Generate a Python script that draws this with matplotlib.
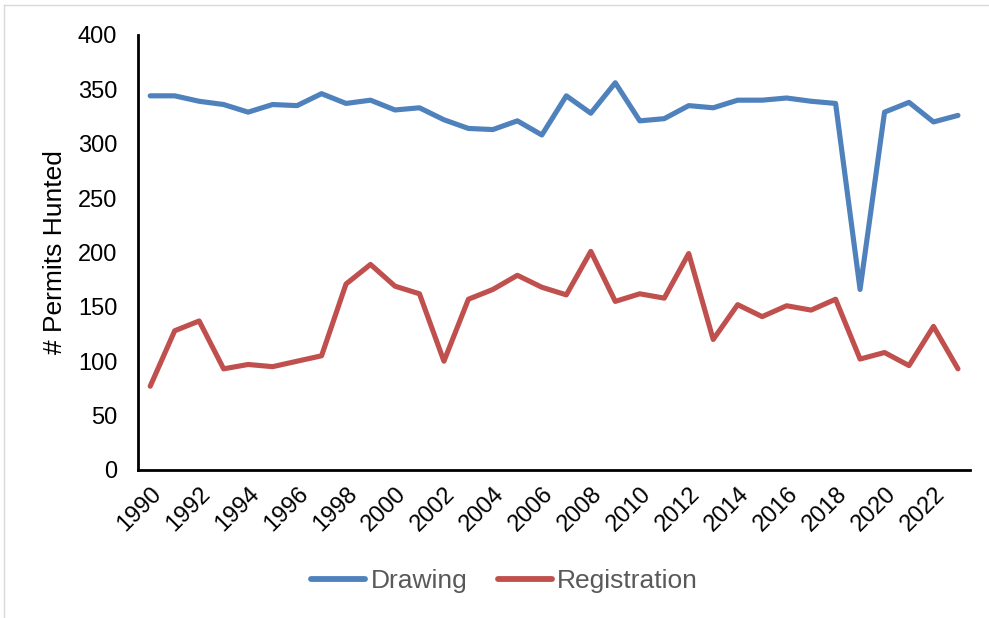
import matplotlib
matplotlib.use("Agg")
import matplotlib.pyplot as plt
from matplotlib.lines import Line2D

years = list(range(1990, 2024))
drawing = [344, 344, 339, 336, 329, 336, 335, 346, 337, 340, 331, 333, 322, 314, 313, 321, 308,
           344, 328, 356, 321, 323, 335, 333, 340, 340, 342, 339, 337, 166, 329, 338, 320, 326]
registration = [77, 128, 137, 93, 97, 95, 100, 105, 171, 189, 169, 162, 100, 157, 166, 179, 168,
                161, 201, 155, 162, 158, 199, 120, 152, 141, 151, 147, 157, 102, 108, 96, 132, 93]
tick_years = list(range(1990, 2024, 2))

plt.rcParams['font.family'] = ['Liberation Sans', 'DejaVu Sans']

fig = plt.figure(figsize=(9.89, 6.18), dpi=100)
ax = fig.add_axes([0.1395, 0.2395, 0.8415, 0.704])

x = list(range(len(years)))
ax.plot(x, drawing, color='#4F81BD', lw=3.7, solid_capstyle='round', solid_joinstyle='round', label='Drawing')
ax.plot(x, registration, color='#C0504D', lw=3.7, solid_capstyle='round', solid_joinstyle='round', label='Registration')

ax.set_xlim(-0.5, len(years) - 0.5)
ax.set_ylim(0, 400)
ax.set_yticks(range(0, 401, 50))
ax.set_xticks([years.index(y) for y in tick_years])
ax.set_xticklabels([str(y) for y in tick_years], rotation=45, ha='right', rotation_mode='anchor')
ax.tick_params(axis='both', length=0, labelsize=17, colors='black')
ax.tick_params(axis='x', pad=9)
ax.tick_params(axis='y', pad=15)
for s in ['top', 'right']:
    ax.spines[s].set_visible(False)
for s in ['left', 'bottom']:
    ax.spines[s].set_linewidth(2)
    ax.spines[s].set_color('black')
ax.set_ylabel('# Permits Hunted', fontsize=19, labelpad=8)

leg = fig.legend(loc='center', bbox_to_anchor=(0.51, 0.06), ncol=2, frameon=False,
                 fontsize=19, handlelength=2.05, columnspacing=1.15, handletextpad=0.2)
for t in leg.get_texts():
    t.set_color('#595959')
for h in leg.legend_handles:
    h.set_linewidth(4.2)

fig.add_artist(Line2D([0.004, 1.0], [0.992, 0.992], transform=fig.transFigure, color='#D9D9D9', lw=1))
fig.add_artist(Line2D([0.004, 0.004], [0.0, 0.992], transform=fig.transFigure, color='#D9D9D9', lw=1))

fig.savefig('out.png', dpi=100)
